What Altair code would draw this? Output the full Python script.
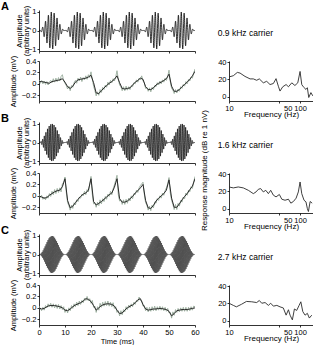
import altair as alt
import numpy as np
import pandas as pd

FONT = "Liberation Sans"

# ---- stimulus description (amplitude-modulated tones) ----
panel_letters = ["A", "B", "C"]
carrier_khz = [0.9, 1.6, 2.7]
carrier_labels = ["0.9 kHz carrier", "1.6 kHz carrier", "2.7 kHz carrier"]
modulation_hz = 100.0
sample_rate_hz = 40000.0
sweep_ms = 60.0

# ---- axis ticks ----
time_ticks = [0, 10, 20, 30, 40, 50, 60]
stim_ticks = [-1, 0, 1]
resp_ticks = [-0.2, 0, 0.2, 0.4]
freq_ticks = [10, 50, 100]
db_ticks = [0, 20, 40]

# ---- averaged responses (mV), one value per ms from 0 to 60 ms ----
resp_mean_a = [
    0.04, 0.04, 0.03, 0.02, 0.01, 0.04, 0.05, 0.06, 0.07, 0.09,
    0.03, -0.05, -0.08, -0.04, 0.03, 0.07, 0.08, 0.09, 0.10, 0.12,
    0.15, 0.02, -0.16, -0.17, -0.12, -0.07, -0.03, 0.01, 0.04, 0.08,
    0.14, 0.02, -0.08, -0.09, -0.08, -0.07, -0.02, 0.03, 0.06, 0.10,
    0.08, -0.05, -0.10, -0.10, -0.07, -0.02, 0.01, 0.03, 0.06, 0.09,
    0.17, -0.04, -0.13, -0.13, -0.10, -0.05, -0.01, 0.03, 0.08, 0.14,
    0.22,
]
resp_mean_b = [
    0.00, -0.02, -0.04, -0.03, 0.01, 0.04, 0.07, 0.09, 0.10, 0.16,
    0.30, -0.08, -0.21, -0.18, -0.12, -0.06, -0.01, 0.03, 0.05, 0.10,
    0.30, -0.10, -0.16, -0.13, -0.10, -0.06, -0.02, 0.02, 0.05, 0.15,
    0.30, -0.05, -0.11, -0.11, -0.09, -0.05, -0.01, 0.05, 0.09, 0.14,
    0.20, -0.08, -0.21, -0.22, -0.17, -0.09, -0.04, 0.00, 0.04, 0.10,
    0.28, -0.04, -0.20, -0.20, -0.14, -0.07, -0.01, 0.04, 0.11, 0.17,
    0.30,
]
resp_mean_c = [
    0.00, -0.02, -0.01, 0.02, 0.04, 0.04, 0.04, 0.03, 0.02, 0.00,
    -0.04, -0.05, -0.02, 0.02, 0.05, 0.07, 0.09, 0.12, 0.16, 0.15,
    0.11, 0.04, -0.04, 0.00, 0.04, 0.06, 0.07, 0.07, 0.06, 0.03,
    -0.04, -0.10, -0.09, -0.04, 0.00, 0.03, 0.05, 0.09, 0.14, 0.16,
    0.06, -0.02, -0.04, -0.03, -0.02, -0.02, -0.01, -0.01, -0.02, -0.03,
    -0.06, -0.14, -0.10, -0.05, -0.04, -0.03, -0.03, -0.03, -0.02, -0.01,
    0.00,
]

# ---- unaveraged responses (mV), one value per 0.5 ms from 0 to 60 ms ----
resp_raw_a = [
    0.07, 0.01, 0.06, 0.00, 0.05, -0.01, 0.04, -0.02, 0.03, 0.06,
    0.02, 0.09, 0.03, 0.10, 0.04, 0.11, 0.05, 0.13, 0.16, 0.05,
    0.01, -0.03, -0.09, -0.04, -0.12, -0.03, -0.06, 0.02, 0.06, 0.01,
    0.10, 0.05, 0.12, 0.04, 0.11, 0.07, 0.14, 0.08, 0.16, 0.11,
    0.21, 0.08, -0.04, -0.12, -0.21, -0.14, -0.20, -0.10, -0.15, -0.06,
    -0.10, -0.02, -0.06, 0.03, -0.02, 0.06, 0.02, 0.09, 0.05, 0.12,
    0.23, 0.08, -0.02, -0.05, -0.12, -0.05, -0.12, -0.04, -0.11, -0.05,
    -0.10, -0.03, -0.05, 0.02, 0.00, 0.07, 0.03, 0.10, 0.07, 0.14,
    0.05, 0.02, -0.08, -0.06, -0.13, -0.07, -0.14, -0.06, -0.10, -0.03,
    -0.05, 0.02, -0.02, 0.05, 0.00, 0.07, 0.03, 0.10, 0.06, 0.13,
    0.24, 0.04, -0.08, -0.11, -0.17, -0.10, -0.16, -0.09, -0.13, -0.05,
    -0.08, -0.01, -0.04, 0.04, 0.00, 0.08, 0.05, 0.12, 0.10, 0.19,
    0.26,
]
resp_raw_b = [
    0.03, -0.03, 0.01, -0.06, -0.02, -0.07, 0.00, -0.04, 0.04, -0.01,
    0.08, 0.02, 0.11, 0.04, 0.13, 0.06, 0.14, 0.07, 0.21, 0.24,
    0.33, 0.06, -0.12, -0.17, -0.25, -0.16, -0.22, -0.12, -0.16, -0.07,
    -0.10, -0.02, -0.04, 0.03, 0.00, 0.08, 0.02, 0.11, 0.07, 0.20,
    0.34, 0.03, -0.14, -0.12, -0.20, -0.11, -0.17, -0.07, -0.14, -0.05,
    -0.10, -0.01, -0.06, 0.03, -0.01, 0.08, 0.02, 0.12, 0.19, 0.27,
    0.36, 0.02, -0.09, -0.07, -0.15, -0.07, -0.15, -0.06, -0.13, -0.04,
    -0.09, 0.00, -0.05, 0.04, 0.02, 0.10, 0.06, 0.14, 0.18, 0.21,
    0.24, 0.03, -0.12, -0.16, -0.25, -0.18, -0.26, -0.16, -0.21, -0.11,
    -0.13, -0.05, -0.08, 0.00, -0.04, 0.05, 0.01, 0.09, 0.14, 0.21,
    0.32, 0.05, -0.08, -0.15, -0.24, -0.15, -0.24, -0.13, -0.18, -0.08,
    -0.11, -0.02, -0.05, 0.05, 0.01, 0.10, 0.07, 0.16, 0.13, 0.24,
    0.34,
]
resp_raw_c = [
    0.03, -0.02, -0.05, 0.01, -0.04, 0.04, 0.00, 0.07, 0.02, 0.08,
    0.01, 0.07, 0.00, 0.06, -0.01, 0.06, -0.02, 0.04, -0.03, 0.02,
    -0.08, -0.02, -0.09, 0.00, -0.05, 0.04, -0.01, 0.07, 0.02, 0.10,
    0.04, 0.12, 0.06, 0.13, 0.09, 0.17, 0.13, 0.20, 0.12, 0.16,
    0.08, 0.13, 0.01, 0.03, -0.08, 0.02, -0.04, 0.08, 0.01, 0.10,
    0.03, 0.11, 0.04, 0.12, 0.03, 0.10, 0.02, 0.09, -0.01, 0.02,
    -0.08, -0.05, -0.14, -0.05, -0.12, -0.03, -0.07, 0.02, -0.03, 0.05,
    0.00, 0.07, 0.02, 0.10, 0.06, 0.13, 0.11, 0.19, 0.13, 0.12,
    0.03, 0.04, -0.05, 0.01, -0.07, 0.01, -0.06, 0.02, -0.05, 0.03,
    -0.05, 0.02, -0.04, 0.03, -0.04, 0.02, -0.05, 0.01, -0.06, -0.01,
    -0.09, -0.08, -0.18, -0.07, -0.13, -0.03, -0.08, -0.01, -0.07, 0.00,
    -0.06, 0.01, -0.06, 0.01, -0.06, 0.01, -0.05, 0.02, -0.04, 0.03,
    0.02,
]

# ---- response spectra: frequency (Hz) and magnitude (dB re 1 nV) ----
spec_freq_a = [10, 11.5, 13.1, 14.3, 16.8, 19.8, 22.0, 24.5, 26.7, 30.4,
               33.9, 37.8, 42.1, 45.9, 49.5, 52.2, 57, 63.6, 68.6, 76.4,
               84.6, 92.8, 100, 105.6, 111, 121, 126.6, 132.5, 142, 151]
spec_db_a = [22.9, 24.3, 28.2, 27.4, 23.5, 20.6, 20.6, 19.0, 20.6, 16.0,
             17.8, 14.0, 15.2, 20.9, 12.0, 6.4, 11.4, 14.0, 11.4, 16.0,
             12.9, 16.0, 29.3, 14.0, 11.4, 8.3, 10.3, -1.1, 4.6, 0.8]
spec_freq_b = [10, 11.5, 13.5, 15.9, 18.7, 22, 24, 25.9, 27.9, 30.4,
               32.9, 35.8, 38.6, 42.1, 45.9, 51.1, 55.3, 61.4, 68.6, 74.1,
               80.5, 87.9, 94.5, 100, 105.6, 113.7, 121, 126.6, 131, 138.5,
               148]
spec_db_b = [25.2, 24.1, 25.2, 24.1, 21.3, 17.4, 19.4, 22.5, 23.3, 19.4,
             21.3, 17.4, 21.3, 15.6, 13.6, 16.4, 10.9, 9.7, 10.9, 6.3,
             8.2, 12.1, 19.4, 31.0, 17.4, 9.7, 7.8, 0.0, -3.5, 8.2,
             6.3]
spec_freq_c = [10, 11.5, 12.7, 15, 17.6, 20.9, 24.5, 26.7, 28.9, 32.2,
               35.8, 38.6, 42.1, 47.1, 52.2, 58.1, 63.6, 68.6, 72.3, 77.9,
               83.3, 89.6, 96.9, 102.5, 109.2, 117.5, 126.6, 135, 146]
spec_db_c = [20.2, 17.7, 16.0, 19.0, 22.3, 21.9, 21.0, 23.4, 20.2, 21.0,
             17.7, 20.2, 16.8, 17.7, 16.0, 14.7, 6.3, 12.6, 6.3, 0.8,
             13.5, 11.8, 17.7, 21.9, 10.5, 6.3, 8.4, 2.9, 6.3]

resp_mean = [resp_mean_a, resp_mean_b, resp_mean_c]
resp_raw = [resp_raw_a, resp_raw_b, resp_raw_c]
spec_freq = [spec_freq_a, spec_freq_b, spec_freq_c]
spec_db = [spec_db_a, spec_db_b, spec_db_c]

LEFT_W, RIGHT_W = 156, 84
STIM_H, RESP_H = 41, 40
COL_GAP = 34
# thinner strokes for the faster carriers so the dense cycles stay grey
stim_stroke = [0.8, 0.7, 0.45]

time_scale = alt.Scale(domain=[0, 60], nice=False, zero=False)


def stimulus_frame(fc_khz):
    """Sinusoidally amplitude-modulated tone, time in ms."""
    n = int(sweep_ms * sample_rate_hz / 1000) + 1
    t_ms = np.arange(n) * 1000.0 / sample_rate_hz
    env = 0.5 * (1 - np.cos(2 * np.pi * modulation_hz * t_ms / 1000.0))
    amp = env * np.sin(2 * np.pi * fc_khz * t_ms)
    return pd.DataFrame({"t": t_ms, "amp": amp})


def stim_panel(i):
    wave = alt.Chart(stimulus_frame(carrier_khz[i])).mark_line(
        color="#000000", strokeWidth=stim_stroke[i]
    ).encode(
        x=alt.X("t:Q", scale=time_scale,
                axis=alt.Axis(values=time_ticks, labels=False), title=None),
        y=alt.Y("amp:Q", scale=alt.Scale(domain=[-1.1, 1.1], nice=False),
                axis=alt.Axis(values=stim_ticks, format="d", titleX=-16,
                              titleLineHeight=7),
                title=["Amplitude", "(arbitrary units)"]),
    )
    letter = alt.Chart(pd.DataFrame({"letter": [panel_letters[i]]})).mark_text(
        font=FONT, fontSize=11, fontWeight="bold", align="left",
        baseline="middle", color="black"
    ).encode(text="letter:N", x=alt.value(-38), y=alt.value(-3))
    # carrier label above the spectrum, right edge near the middle of the column
    carrier = alt.Chart(pd.DataFrame({"label": [carrier_labels[i]]})).mark_text(
        font=FONT, fontSize=8.5, align="right", baseline="middle", color="black"
    ).encode(text="label:N", x=alt.value(LEFT_W + COL_GAP + 44), y=alt.value(23))
    return alt.layer(wave, letter, carrier).properties(width=LEFT_W, height=STIM_H)


def response_panel(i, with_time_labels):
    raw = resp_raw[i]
    mean = resp_mean[i]
    raw_df = pd.DataFrame({"t": [0.5 * k for k in range(len(raw))], "mv": raw})
    mean_df = pd.DataFrame({"t": list(range(len(mean))), "mv": mean})
    if with_time_labels:
        x = alt.X("t:Q", scale=time_scale,
                  axis=alt.Axis(values=time_ticks, format="d", titlePadding=2),
                  title="Time (ms)")
    else:
        x = alt.X("t:Q", scale=time_scale,
                  axis=alt.Axis(values=time_ticks, labels=False), title=None)
    y = alt.Y("mv:Q", scale=alt.Scale(domain=[-0.3, 0.4], nice=False),
              axis=alt.Axis(values=resp_ticks, format=".1~f", titleX=-22),
              title="Amplitude (mV)")
    raw_line = alt.Chart(raw_df).mark_line(
        color="#98ad9c", strokeWidth=0.9, clip=True).encode(x=x, y=y)
    mean_line = alt.Chart(mean_df).mark_line(
        color="#2a2a2a", strokeWidth=1.0, clip=True).encode(x=x, y=y)
    return alt.layer(raw_line, mean_line).properties(width=LEFT_W, height=RESP_H)


def spectrum_panel(i):
    df = pd.DataFrame({"f": spec_freq[i], "db": spec_db[i]})
    if i == 1:
        y = alt.Y("db:Q", scale=alt.Scale(domain=[-5.2, 41.5], nice=False),
                  axis=alt.Axis(values=db_ticks, format="d", titleX=-21,
                                titleY=-3, titleFontSize=8),
                  title="Response magnitude (dB re 1 nV)")
    else:
        y = alt.Y("db:Q", scale=alt.Scale(domain=[-5.2, 41.5], nice=False),
                  axis=alt.Axis(values=db_ticks, format="d"), title=None)
    x = alt.X("f:Q", scale=alt.Scale(type="log", domain=[10, 152], nice=False),
              axis=alt.Axis(values=freq_ticks, format="d", titleY=9,
                            titleFontSize=8, labelOverlap=False,
                            labelOffset={"condition": {"test": "datum.value == 50",
                                                       "value": 9},
                                         "value": 0}),
              title="Frequency (Hz)")
    return alt.Chart(df).mark_line(
        color="#2a2a2a", strokeWidth=0.9, clip=True
    ).encode(x=x, y=y).properties(width=RIGHT_W, height=RESP_H)


def spacer(w, h):
    # empty cell used to keep the grid rows evenly spaced
    return alt.Chart(pd.DataFrame({"v": [0]})).mark_point(opacity=0).encode(
        x=alt.value(0), y=alt.value(0)).properties(width=w, height=h)


cells = []
for i in range(3):
    cells += [stim_panel(i), spacer(RIGHT_W, STIM_H),
              response_panel(i, i == 2), spectrum_panel(i)]
    if i < 2:
        cells += [spacer(LEFT_W, 1), spacer(RIGHT_W, 1)]

chart = alt.concat(
    *cells, columns=2, spacing={"row": 10, "column": COL_GAP}, bounds="flush"
).properties(
    padding={"left": 1, "top": 1, "right": 0, "bottom": 0}
).configure_axis(
    labelFont=FONT, titleFont=FONT, labelFontSize=7.5, titleFontSize=7.5,
    titleFontWeight="normal", labelColor="black", titleColor="black",
    domainColor="black", tickColor="black", tickSize=2, tickWidth=0.8,
    domainWidth=0.8, labelPadding=1, labelFlush=False, grid=False,
).configure_view(stroke=None)

chart.save("out.html", embed_options={"renderer": "svg", "actions": False})
